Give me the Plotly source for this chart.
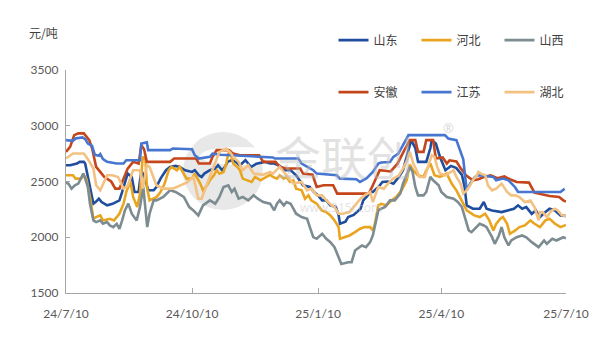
import pandas as pd
import plotly.graph_objects as go

start = pd.Timestamp("2024-07-10")

# (day offset from 2024-07-10, price yuan/ton)
shandong = [(0,2646),(3,2646),(8,2661),(10,2676),(13,2676),(14,2661),(15,2601),(17.5,2451),(19,2346),(20,2301),(22,2320),(24,2346),(26,2316),(30,2286),(34,2300),(39,2330),(41,2406),(43,2481),(45,2571),(48,2541),(50,2406),(53,2406),(54,2500),(55,2601),(56,2571),(58,2511),(60,2421),(64,2421),(66,2451),(69,2526),(73,2601),(76,2631),(80,2640),(83,2631),(87,2601),(92,2586),(94,2601),(97,2556),(99,2541),(101,2571),(105,2601),(109,2616),(111,2646),(114,2601),(116,2631),(118,2676),(121,2691),(124,2676),(127,2646),(131,2691),(133,2661),(135,2630),(139,2660),(145,2676),(149,2661),(152,2661),(156,2640),(160,2601),(164,2601),(168,2556),(173,2466),(178,2451),(181,2406),(184,2376),(187,2331),(190,2331),(193,2286),(197,2271),(199,2200),(200,2121),(204,2140),(206,2181),(210,2200),(215,2256),(217,2331),(220,2370),(222,2406),(224,2406),(228,2450),(231,2496),(235,2500),(239,2480),(243,2541),(246,2601),(250,2781),(252,2871),(255,2800),(257,2676),(263,2676),(266,2800),(267,2871),(270,2840),(273,2720),(277,2601),(281,2640),(285,2620),(289,2560),(291,2451),(292.5,2286),(297,2256),(302,2256),(305,2316),(307,2256),(311,2240),(318,2226),(323,2240),(327,2256),(330,2286),(333,2256),(336,2270),(340,2210),(343,2240),(346,2181),(350,2226),(353,2256),(357,2240),(361,2196),(365,2190)]

hebei = [(0,2556),(5,2556),(7,2526),(11,2526),(13,2556),(15,2520),(17.5,2361),(19,2211),(20,2166),(22,2180),(25,2196),(27,2151),(32,2166),(35,2151),(37,2181),(39,2211),(42,2301),(44,2406),(47,2500),(49,2361),(52,2271),(54,2390),(56,2721),(58,2700),(59,2451),(61,2331),(66,2360),(69,2406),(72,2481),(75,2601),(77,2631),(81,2601),(83,2631),(86,2571),(88,2526),(92,2526),(94,2571),(98,2481),(100,2421),(103,2466),(105,2511),(108,2556),(110,2601),(112,2571),(115,2586),(117,2660),(118.5,2751),(120,2766),(122,2661),(125,2631),(127,2601),(129,2526),(133,2511),(135.5,2496),(138,2541),(142,2511),(146,2540),(149,2560),(151,2541),(154,2526),(156,2556),(159,2526),(161,2541),(163.5,2496),(166,2511),(168,2436),(172,2421),(174.5,2346),(177,2376),(179,2331),(183,2301),(186.6,2241),(190,2226),(193,2196),(196,2151),(199,2091),(200,1986),(204,2000),(207,2016),(211,2046),(214.6,2076),(218,2091),(222,2091),(224,2060),(225.5,2120),(228,2286),(230,2300),(234,2286),(237.7,2331),(241,2361),(245,2421),(248.7,2511),(251,2650),(253.5,2600),(257,2556),(261,2541),(263,2601),(266,2661),(269,2556),(273,2541),(278,2571),(281.5,2481),(285,2421),(290,2301),(292.5,2241),(298,2196),(302,2181),(306,2211),(309,2151),(312,2061),(314,2120),(317,2166),(319,2181),(322,2120),(324,2031),(328,2061),(331,2091),(335,2106),(339,2151),(342,2121),(346,2091),(350,2151),(353,2166),(357,2121),(361,2091),(365,2110)]

shanxi = [(0,2496),(2,2476),(4,2436),(6.5,2466),(9,2481),(11,2526),(12.6,2571),(14,2526),(16,2450),(17.5,2301),(20,2151),(22,2136),(25,2151),(27,2121),(30,2136),(32,2106),(34.5,2091),(37,2121),(39,2076),(41,2151),(43,2241),(45.5,2301),(48,2211),(51.6,2151),(54,2271),(56.4,2451),(57.5,2300),(59.3,2091),(61,2211),(64,2331),(66,2331),(69,2346),(71,2361),(76,2421),(80,2406),(86,2361),(90,2271),(93,2241),(96.6,2196),(100,2286),(105,2331),(109,2301),(112,2361),(115,2451),(118.5,2466),(121,2406),(123,2436),(126,2346),(129,2361),(133,2331),(137,2376),(140,2346),(144,2316),(149,2301),(152,2241),(154,2301),(156,2331),(159,2286),(161,2316),(164,2301),(166,2256),(168,2211),(172,2181),(176,2166),(178,2091),(180.5,2001),(183,1986),(187,2031),(190,1986),(193,1956),(196,1911),(199,1821),(201,1761),(206,1776),(208.5,1776),(211,1881),(213,1896),(216,1926),(219,1911),(222,1956),(224,2016),(228,2241),(230,2256),(233,2271),(236.5,2331),(240,2331),(244,2391),(246,2481),(249,2571),(251,2631),(253,2586),(255,2451),(257,2376),(261,2376),(263,2406),(266,2541),(268,2511),(272,2466),(274,2406),(278,2361),(283,2346),(286,2316),(289,2271),(291,2181),(294,2061),(296,2046),(300,2091),(302,2121),(305,2106),(307,2091),(311,2001),(313,1941),(316,2016),(318,2091),(320,2000),(323,1926),(325,1971),(329,2001),(333,2016),(336,2000),(340,1956),(342,1941),(345,1911),(349,1971),(351,1941),(355,1986),(358,1971),(363,2000),(365,1990)]

anhui = [(0,2766),(3,2811),(6,2916),(9,2932),(13,2932),(15,2900),(17,2871),(19,2800),(21,2700),(22,2631),(25,2586),(28,2540),(33,2500),(36,2436),(39,2436),(42,2526),(45,2616),(49,2676),(53,2660),(55,2826),(57,2790),(59,2676),(76,2676),(79,2706),(95,2706),(97,2661),(105,2661),(107,2721),(110,2781),(119,2781),(122,2750),(127,2736),(141,2736),(144,2676),(153,2676),(156,2631),(161,2616),(171,2616),(173,2571),(180,2560),(183,2451),(188,2466),(195,2466),(198,2391),(221,2391),(223,2440),(229,2601),(237,2590),(242,2660),(247,2781),(251,2871),(255,2871),(257,2766),(261,2766),(263,2871),(268,2871),(270,2706),(275,2716),(278,2661),(280,2690),(285,2680),(288,2620),(292,2556),(297,2511),(301,2520),(305,2541),(310,2556),(315,2530),(320,2545),(324,2520),(329,2496),(338,2490),(342,2400),(353,2370),(360,2361),(363,2331),(365,2320)]

jiangsu = [(0,2871),(5,2865),(7,2885),(12,2895),(14,2880),(16,2841),(19,2820),(21,2740),(24,2730),(25,2745),(27,2700),(30,2676),(37,2661),(42,2661),(44,2691),(54,2691),(55,2841),(59,2851),(60,2781),(76,2781),(78,2796),(92,2790),(94,2736),(97,2706),(105,2721),(107,2750),(113,2740),(130,2730),(145,2716),(151,2716),(152.5,2706),(169.6,2706),(172,2661),(180.5,2601),(183,2571),(197.6,2556),(200,2526),(212,2521),(214.6,2496),(219.5,2530),(224,2586),(228,2661),(230,2670),(236.5,2675),(239,2721),(242.6,2751),(246,2826),(250,2916),(276.6,2916),(279,2886),(285,2871),(287.6,2781),(290,2700),(292.5,2420),(295,2480),(298.5,2541),(301,2556),(312,2541),(314,2511),(319,2526),(323,2511),(327.7,2451),(330,2406),(361,2406),(364,2436)]

hubei = [(0,2706),(5,2751),(13,2751),(16,2700),(20,2616),(22,2466),(25,2421),(28,2500),(30,2556),(34,2556),(38,2540),(42,2436),(45,2460),(49,2601),(54,2601),(56,2436),(59,2646),(61,2631),(66,2466),(71,2436),(78,2436),(88,2490),(93,2540),(96.6,2346),(99,2346),(103,2480),(107,2601),(112,2766),(117,2796),(120,2760),(122,2720),(126,2676),(129,2601),(133,2646),(137,2571),(144,2560),(149,2586),(151,2571),(156,2631),(161,2556),(166,2481),(172,2496),(176,2421),(179,2436),(183,2376),(187,2376),(190,2331),(194,2286),(196,2271),(199,2211),(202,2211),(207,2226),(211,2286),(215,2346),(218,2376),(222,2406),(224,2316),(228,2451),(232,2436),(235,2481),(239,2526),(243,2556),(246,2616),(249,2691),(251,2766),(253.5,2661),(256,2601),(258,2541),(262,2541),(264.5,2646),(267,2736),(269,2721),(271,2631),(273,2571),(277,2556),(279,2571),(283,2601),(285,2541),(288,2481),(290,2391),(292.5,2421),(295,2466),(297,2511),(300,2556),(301,2586),(303,2571),(306,2556),(308,2466),(311,2421),(314,2436),(318,2481),(322,2406),(325,2376),(328,2376),(331,2361),(335,2316),(339,2330),(342,2271),(345,2151),(346,2226),(348,2226),(351,2181),(354.5,2240),(357,2256),(359,2240),(362,2196),(365,2190)]

series_names = ["山东", "河北", "山西", "安徽", "江苏", "湖北"]
series_data = [shandong, hebei, shanxi, anhui, jiangsu, hubei]
series_colors = ["#1F4E9E", "#E9A51F", "#7C8C91", "#C5461A", "#4676CF", "#F3C283"]
series_legend = ["legend", "legend", "legend", "legend2", "legend2", "legend2"]

tick_dates = ["2024-07-10", "2024-10-10", "2025-01-10", "2025-04-10", "2025-07-10"]
tick_text = ["24/7/10", "24/10/10", "25/1/10", "25/4/10", "25/7/10"]
y_ticks = [1500, 2000, 2500, 3000, 3500]

fig = go.Figure()
for name, data, color, lg in zip(series_names, series_data, series_colors, series_legend):
    x = [start + pd.Timedelta(days=d) for d, _ in data]
    y = [v for _, v in data]
    fig.add_trace(go.Scatter(x=x, y=y, mode="lines", name=name,
                             line=dict(color=color, width=2.6),
                             legend=lg))

axis_color = "#A6A6A6"
tick_font = dict(family="Lato, Liberation Sans, sans-serif", size=12, color="#595959")
legend_font = dict(family="Noto Sans CJK SC", size=12, color="#404040")

fig.update_layout(
    width=600, height=341,
    margin=dict(l=66, r=34, t=70, b=48),
    paper_bgcolor="white", plot_bgcolor="white",
    showlegend=True,
    legend=dict(orientation="h", x=0.535, y=1.134, xanchor="left", yanchor="middle",
                entrywidth=38, entrywidthmode="pixels", bgcolor="rgba(0,0,0,0)",
                font=legend_font, itemwidth=30, tracegroupgap=0),
    legend2=dict(orientation="h", x=0.535, y=0.901, xanchor="left", yanchor="middle",
                 entrywidth=38, entrywidthmode="pixels", bgcolor="rgba(0,0,0,0)",
                 font=legend_font, itemwidth=30, tracegroupgap=0),
    xaxis=dict(type="date", range=[tick_dates[0], tick_dates[-1]],
               tickvals=tick_dates, ticktext=tick_text,
               showgrid=False, zeroline=False, showline=True, linecolor=axis_color, linewidth=1.3,
               ticks="inside", ticklen=5, tickcolor=axis_color, tickwidth=1.2,
               ticklabelstandoff=9, tickfont=tick_font),
    yaxis=dict(range=[1500, 3500], tickvals=y_ticks,
               showgrid=False, zeroline=False, showline=True, linecolor=axis_color, linewidth=1.3,
               ticks="inside", ticklen=4, tickcolor=axis_color, tickwidth=1.2,
               ticklabelstandoff=4, tickfont=tick_font),
    shapes=[
        dict(type="circle", xref="paper", yref="paper", layer="below",
             x0=0.234, x1=0.394, y0=0.372, y1=0.722,
             fillcolor="#E8E8E8", line=dict(width=0)),
        dict(type="circle", xref="paper", yref="paper", layer="below",
             x0=0.268, x1=0.428, y0=0.574, y1=0.655,
             fillcolor="white", line=dict(width=0)),
    ],
    annotations=[
        dict(text="元/吨", xref="paper", yref="paper", x=-0.078, y=1.17,
             xanchor="left", yanchor="middle", showarrow=False, font=legend_font),
        dict(text="金联创", xref="paper", yref="paper", x=0.555, y=0.62,
             xanchor="center", yanchor="middle", showarrow=False,
             font=dict(family="Noto Sans CJK SC", size=46, color="rgba(190,190,190,0.45)")),
        dict(text="®", xref="paper", yref="paper", x=0.765, y=0.74,
             xanchor="center", yanchor="middle", showarrow=False,
             font=dict(family="Noto Sans", size=13, color="rgba(190,190,190,0.6)")),
        dict(text="www.315i.com", xref="paper", yref="paper", x=0.55, y=0.385,
             xanchor="center", yanchor="middle", showarrow=False,
             font=dict(family="Noto Sans", size=12, color="rgba(200,200,200,0.5)")),
    ],
)

fig.write_html("out.html")
